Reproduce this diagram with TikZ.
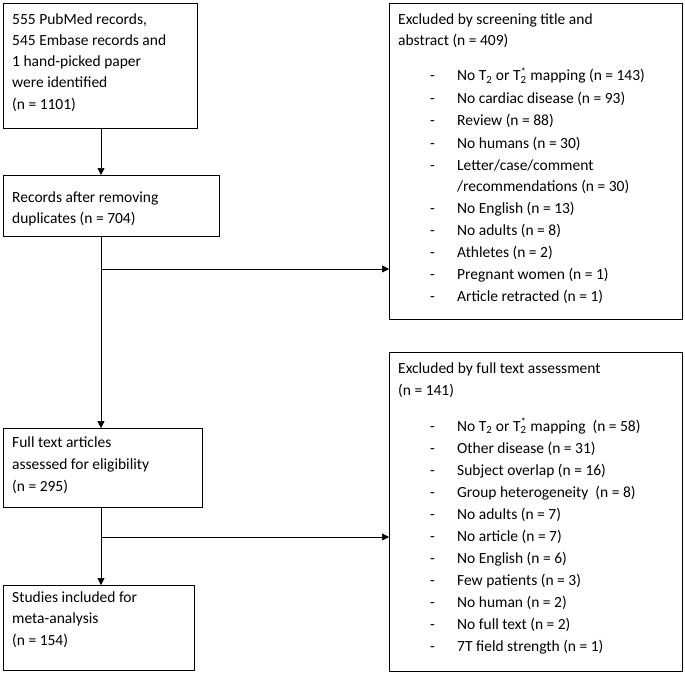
\documentclass[tikz,border=0pt]{standalone}
\usepackage{fontspec}
\setmainfont{Carlito}
\usetikzlibrary{arrows.meta}
\newcommand{\Tt}{T\textsubscript{2}}
\newcommand{\Ts}{T\rlap{\textsubscript{2}}\textsuperscript{*}\kern4pt}
\begin{document}
\begin{tikzpicture}[x=1pt,y=-1pt,
  box/.style={draw,line width=0.9pt,inner sep=0pt,anchor=north west},
  txt/.style={anchor=base west,inner sep=0pt,font=\fontsize{15.5}{18}\selectfont},
  arr/.style={line width=0.7pt,-{Triangle[length=7pt,width=7pt]}}]
\useasboundingbox (0,0) rectangle (685,674);
\node[box,minimum width=194pt,minimum height=125pt] (b1) at (3,3) {};
\node[box,minimum width=216pt,minimum height=61pt] (b2) at (3,175) {};
\node[box,minimum width=293pt,minimum height=316pt] (b3) at (389,3) {};
\node[box,minimum width=199pt,minimum height=79pt] (b4) at (3,428) {};
\node[box,minimum width=293pt,minimum height=319pt] (b5) at (389,352) {};
\node[box,minimum width=191pt,minimum height=85pt] (b6) at (3,585) {};
% left texts
\foreach \y/\t [count=\i] in {25/{555 PubMed records,},46/{545 Embase records and},67/1 hand-picked paper,88/were identified,110/(n = 1101),
  202/Records after removing,223/duplicates (n = 704),
  447/Full text articles,469/assessed for eligibility,491/(n = 295),
  602/Studies included for,623/meta-analysis,645/(n = 154)}
  \node[txt] (l\i) at (12,\y) {\t};
% titles
\node[txt] (h1) at (398,25) {Excluded by screening title and};
\node[txt] (h2) at (398,46) {abstract (n = 409)};
\node[txt] (h3) at (398,373) {Excluded by full text assessment};
\node[txt] (h4) at (398,395) {(n = 141)};
% list 1
\foreach \y/\d/\t [count=\i] in {81/-/{No \Tt{} or \Ts mapping (n = 143)},104/-/No cardiac disease (n = 93),126/-/Review (n = 88),148/-/No humans (n = 30),170/-/{Letter/case/comment},191/ /{/recommendations (n = 30)},213/-/No English (n = 13),235/-/No adults (n = 8),257/-/Athletes (n = 2),279/-/Pregnant women (n = 1),301/-/Article retracted (n = 1)}{
  \node[txt] (d\i) at (430,\y) {\d};
  \node[txt] (e\i) at (457,\y) {\t};}
% list 2
\foreach \y/\t [count=\i] in {431/{No \Tt{} or \Ts mapping~ (n = 58)},453/Other disease (n = 31),475/Subject overlap (n = 16),497/Group heterogeneity~ (n = 8),519/No adults (n = 7),541/No article (n = 7),563/No English (n = 6),585/Few patients (n = 3),607/No human (n = 2),629/No full text (n = 2),651/7T field strength (n = 1)}{
  \node[txt] (f\i) at (430,\y) {-};
  \node[txt] (g\i) at (457,\y) {\t};}
% connectors
\coordinate (j1) at (101,269);
\coordinate (j2) at (101,537);
\draw[arr] (b1.south -| j1) -- (b2.north -| j1);
\draw[arr] (b2.south -| j1) -- (b4.north -| j1);
\draw[arr] (j1) -- (j1 -| b3.west);
\draw[arr] (b4.south -| j2) -- (b6.north -| j2);
\draw[arr] (j2) -- (j2 -| b5.west);
\end{tikzpicture}
\end{document}
